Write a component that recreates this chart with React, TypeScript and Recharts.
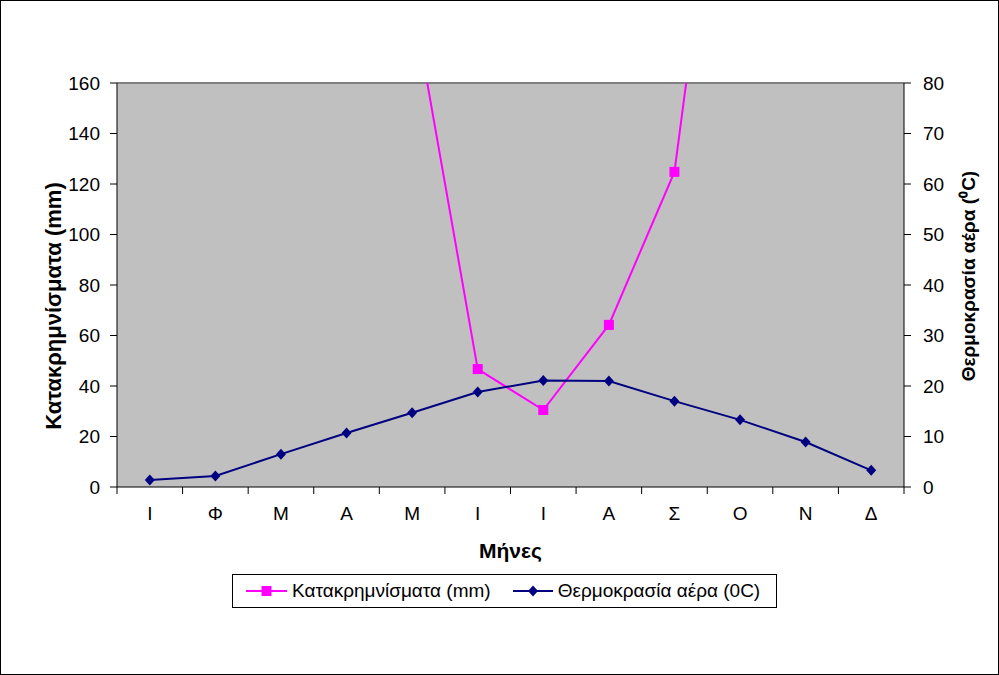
import React from "react";
import {
  ComposedChart,
  Line,
  XAxis,
  YAxis,
  CartesianGrid,
  Legend,
  ReferenceLine,
  Label,
} from "recharts";

const months = ["Ι", "Φ", "Μ", "Α", "Μ", "Ι", "Ι", "Α", "Σ", "Ο", "Ν", "Δ"];
// precipitation (mm); winter months run off the top of the plot
const rainfall = [250, 230, 215, 200, 194, 46.7, 30.5, 64.2, 124.8, 322, 380, 300];
// air temperature (0C)
const temperature = [1.4, 2.2, 6.5, 10.7, 14.7, 18.8, 21.1, 21.0, 17.0, 13.3, 8.9, 3.3];
const rainTicks = [0, 20, 40, 60, 80, 100, 120, 140, 160];
const tempTicks = [0, 10, 20, 30, 40, 50, 60, 70, 80];

const FONT = "'Liberation Sans', Arial, sans-serif";
const PINK = "#FF00FF";
const NAVY = "#000080";
const HALF_BAND = 32.8;

const data = months.map((m, i) => ({
  month: m,
  rain: rainfall[i],
  temp: temperature[i],
}));

function SquareDot(props: any) {
  const { cx, cy } = props;
  if (cx == null || cy == null) return null;
  return <rect x={cx - 5} y={cy - 5} width={10} height={10} fill={PINK} />;
}

function DiamondDot(props: any) {
  const { cx, cy } = props;
  if (cx == null || cy == null) return null;
  return (
    <polygon
      points={`${cx},${cy - 5.5} ${cx + 5},${cy} ${cx},${cy + 5.5} ${cx - 5},${cy}`}
      fill={NAVY}
    />
  );
}

function MonthTick(props: any) {
  const { x, y, payload, index } = props;
  const last = index === months.length - 1;
  return (
    <g>
      <line x1={x - HALF_BAND} y1={y} x2={x - HALF_BAND} y2={y + 7} stroke="#000" />
      {last && <line x1={x + HALF_BAND} y1={y} x2={x + HALF_BAND} y2={y + 7} stroke="#000" />}
      <text x={x} y={y + 33} textAnchor="middle" fontFamily={FONT} fontSize={19} fill="#000">
        {payload.value}
      </text>
    </g>
  );
}

const titleStyle = { fontFamily: FONT, fontWeight: "bold", fill: "#000" } as const;

function LeftTitle(props: any) {
  const { viewBox } = props;
  const x = viewBox.x - 4;
  const y = viewBox.y + viewBox.height / 2 + 21;
  return (
    <text x={x} y={y} transform={`rotate(-90 ${x} ${y})`} textAnchor="middle" dominantBaseline="central" fontSize={22} {...titleStyle}>
      Κατακρημνίσματα (mm)
    </text>
  );
}

function RightTitle(props: any) {
  const { viewBox } = props;
  const x = viewBox.x + 64;
  const y = viewBox.y + viewBox.height / 2 - 9;
  return (
    <text x={x} y={y} transform={`rotate(-90 ${x} ${y})`} textAnchor="middle" dominantBaseline="central" fontSize={19} {...titleStyle}>
      Θερμοκρασία αέρα (⁰C)
    </text>
  );
}

function BottomTitle(props: any) {
  const { viewBox } = props;
  return (
    <text x={viewBox.x + viewBox.width / 2} y={viewBox.y + 71} textAnchor="middle" fontSize={21} {...titleStyle}>
      Μήνες
    </text>
  );
}

function LegendBox() {
  return (
    <div
      style={{
        border: "1px solid #000",
        boxSizing: "border-box",
        height: 34,
        width: 545,
        display: "flex",
        alignItems: "center",
        paddingLeft: 13,
        fontFamily: FONT,
        fontSize: 19,
        color: "#000",
        background: "#fff",
        whiteSpace: "nowrap",
      }}
    >
      <svg width={41} height={12} style={{ marginRight: 5 }}>
        <line x1={0} y1={6} x2={41} y2={6} stroke={PINK} strokeWidth={2} />
        <rect x={15.5} y={1} width={10} height={10} fill={PINK} />
      </svg>
      <span>Κατακρημνίσματα (mm)</span>
      <svg width={40} height={12} style={{ marginLeft: 22, marginRight: 5 }}>
        <line x1={0} y1={6} x2={40} y2={6} stroke={NAVY} strokeWidth={2} />
        <polygon points="20,0.5 25,6 20,11.5 15,6" fill={NAVY} />
      </svg>
      <span>Θερμοκρασία αέρα (0C)</span>
    </div>
  );
}

export default function App() {
  return (
    <div style={{ position: "absolute", left: 0, top: 0, width: 999, height: 675, background: "#fff" }}>
      <ComposedChart
        width={999}
        height={675}
        data={data}
        margin={{ top: 83, right: 35, bottom: 148, left: 57 }}
      >
        <CartesianGrid horizontal={false} vertical={false} fill="#C0C0C0" stroke="none" />
        <XAxis
          dataKey="month"
          height={40}
          padding={{ left: HALF_BAND, right: HALF_BAND }}
          tickLine={false}
          tickSize={0}
          tickMargin={0}
          axisLine={{ stroke: "#000" }}
          tick={<MonthTick />}
          interval={0}
        >
          <Label content={<BottomTitle />} />
        </XAxis>
        <YAxis
          yAxisId="left"
          orientation="left"
          width={60}
          domain={[0, 160]}
          ticks={rainTicks}
          allowDataOverflow
          tickSize={7}
          tickMargin={10}
          axisLine={{ stroke: "#000" }}
          tickLine={{ stroke: "#000" }}
          tick={{ fontFamily: FONT, fontSize: 19, fill: "#000" }}
        >
          <Label content={<LeftTitle />} />
        </YAxis>
        <YAxis
          yAxisId="right"
          orientation="right"
          width={60}
          domain={[0, 80]}
          ticks={tempTicks}
          tickSize={7}
          tickMargin={12}
          axisLine={{ stroke: "#000" }}
          tickLine={{ stroke: "#000" }}
          tick={{ fontFamily: FONT, fontSize: 19, fill: "#000" }}
        >
          <Label content={<RightTitle />} />
        </YAxis>
        <ReferenceLine yAxisId="left" y={160} stroke="#808080" strokeWidth={2} />
        <Line
          yAxisId="left"
          dataKey="rain"
          name="Κατακρημνίσματα (mm)"
          type="linear"
          stroke={PINK}
          strokeWidth={2}
          dot={<SquareDot />}
          activeDot={false}
          isAnimationActive={false}
        />
        <Line
          yAxisId="right"
          dataKey="temp"
          name="Θερμοκρασία αέρα (0C)"
          type="linear"
          stroke={NAVY}
          strokeWidth={2}
          dot={<DiamondDot />}
          activeDot={false}
          isAnimationActive={false}
        />
        <Legend
          layout="horizontal"
          align="center"
          verticalAlign="middle"
          content={<LegendBox />}
          wrapperStyle={{ left: 232, top: 574, width: 545, height: 34 }}
        />
      </ComposedChart>
      <div
        style={{
          position: "absolute",
          left: 0,
          top: 0,
          width: 999,
          height: 675,
          border: "1px solid #000",
          boxSizing: "border-box",
          pointerEvents: "none",
        }}
      />
    </div>
  );
}
